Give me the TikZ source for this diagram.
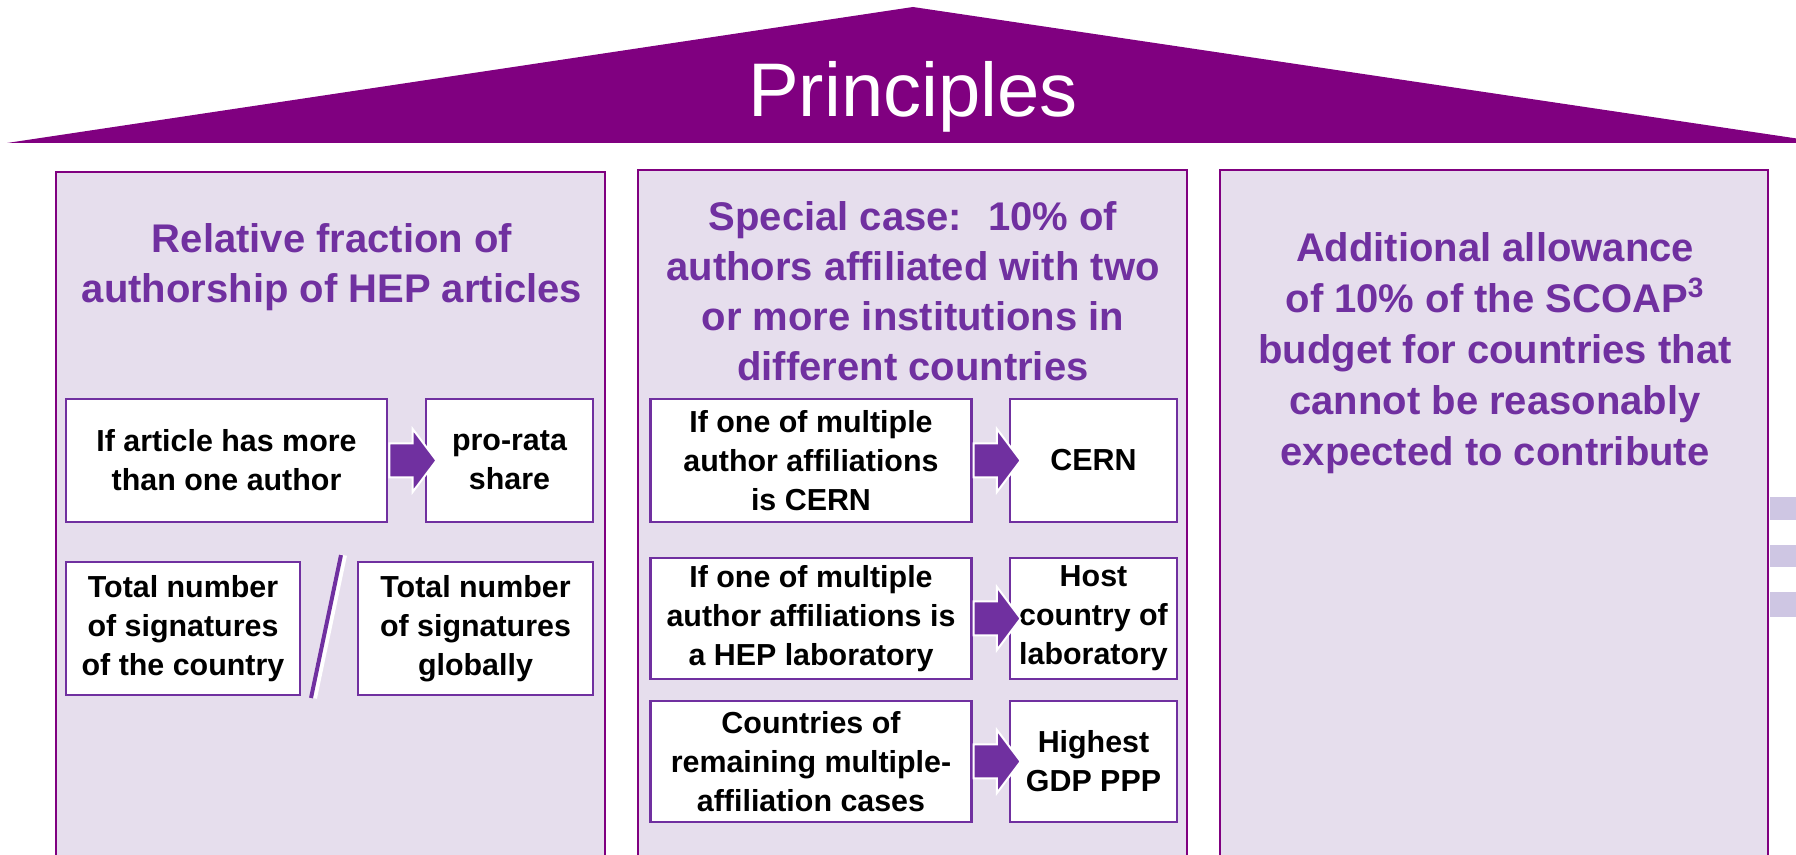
\documentclass[tikz,border=0pt]{standalone}
\usepackage{fontspec}
\setmainfont{Liberation Sans}
\usetikzlibrary{shapes.arrows}
\definecolor{roofpurple}{HTML}{800080}
\definecolor{hepviolet}{HTML}{7030A0}
\definecolor{panelfill}{HTML}{E6DEED}
\definecolor{stripe}{HTML}{CEC6E3}
\begin{document}
\begin{tikzpicture}[x=0.5pt,y=-0.5pt,
  panel/.style={draw=roofpurple,line width=1pt,fill=panelfill},
  head/.style={text=hepviolet,align=center,font=\bfseries\fontsize{20}{25}\selectfont},
  box/.style={draw=hepviolet,line width=1.25pt,fill=white,align=center,inner sep=0pt,
    font=\bfseries\fontsize{15.2}{19.5}\selectfont},
  wide/.style={box,minimum width=160.5pt},
  narrow/.style={box,minimum width=83.5pt},
  blockarrow/.style={single arrow,draw=white,line width=1pt,fill=hepviolet,
    inner xsep=0pt,inner ysep=8pt,minimum height=23.5pt,
    single arrow head extend=7.25pt,single arrow tip angle=106}]
\useasboundingbox (0,0) rectangle (1796,855);

% roof
\fill[roofpurple] (7,143) -- (913,7) -- (1800,139) -- (1800,143) -- cycle;
\node[white,anchor=base,font=\fontsize{38}{38}\selectfont] (roof) at (913,117) {Principles};

% pillars
\filldraw[panel] (56,172) rectangle (605,880);
\filldraw[panel] (638,170) rectangle (1187,880);
\filldraw[panel] (1220,170) rectangle (1768,880);
\fill[stripe] (1770,497) rectangle (1800,520);
\fill[stripe] (1770,545) rectangle (1800,567);
\fill[stripe] (1770,592) rectangle (1800,617);

% left pillar
\node[head] (fraction) at (332,267) {Relative fraction of\\authorship of HEP articles};
\node[wide,minimum height=61.5pt] (multi) at (226.5,460.5) {If article has more\\than one author};
\node[narrow,minimum height=61.5pt] (prorata) at (509.5,460.5) {pro-rata\\share};
\path (multi.east) -- (prorata.west) node[midway,blockarrow] (multiarr) {};
\node[box,minimum width=117pt,minimum height=66.5pt] (sigcountry) at (183,628.5) {Total number\\of signatures\\of the country};
\node[box,minimum width=117.5pt,minimum height=66.5pt] (sigglobal) at (475.5,628.5) {Total number\\of signatures\\globally};
\draw[white,line width=4pt] (343,555) -- (313,698);
\draw[hepviolet,line width=2pt] (341,555) -- (311,698);

% middle pillar
\node[head] (special) at (913,291) {Special case:~ 10\% of\\authors affiliated with two\\or more institutions in\\different countries};
\node[wide,minimum height=61.5pt] (cernif) at (811,460.5) {If one of multiple\\author affiliations\\is CERN};
\node[narrow,minimum height=61.5pt] (cern) at (1093.5,460.5) {CERN};
\node[wide,minimum height=60.5pt] (labif) at (811,618.5) {If one of multiple\\author affiliations is\\a HEP laboratory};
\node[narrow,minimum height=60.5pt] (host) at (1093.5,618.5) {Host\\country of\\laboratory};
\node[wide,minimum height=60.5pt] (remain) at (811,761.5) {Countries of\\remaining multiple-\\affiliation cases};
\node[narrow,minimum height=60.5pt] (gdp) at (1093.5,761.5) {Highest\\GDP PPP};
\path (cernif.east) -- (cern.west) node[midway,blockarrow] (cernarr) {};
\path (labif.east) -- (host.west) node[midway,blockarrow] (labarr) {};
\path (remain.east) -- (gdp.west) node[midway,blockarrow] (gdparr) {};

% right pillar
\node[head,font=\bfseries\fontsize{20}{25.5}\selectfont] (allowance) at (1495,353)
  {Additional allowance\\of 10\% of the SCOAP\textsuperscript{3}\\budget for countries that\\cannot be reasonably\\expected to contribute};
\end{tikzpicture}
\end{document}
